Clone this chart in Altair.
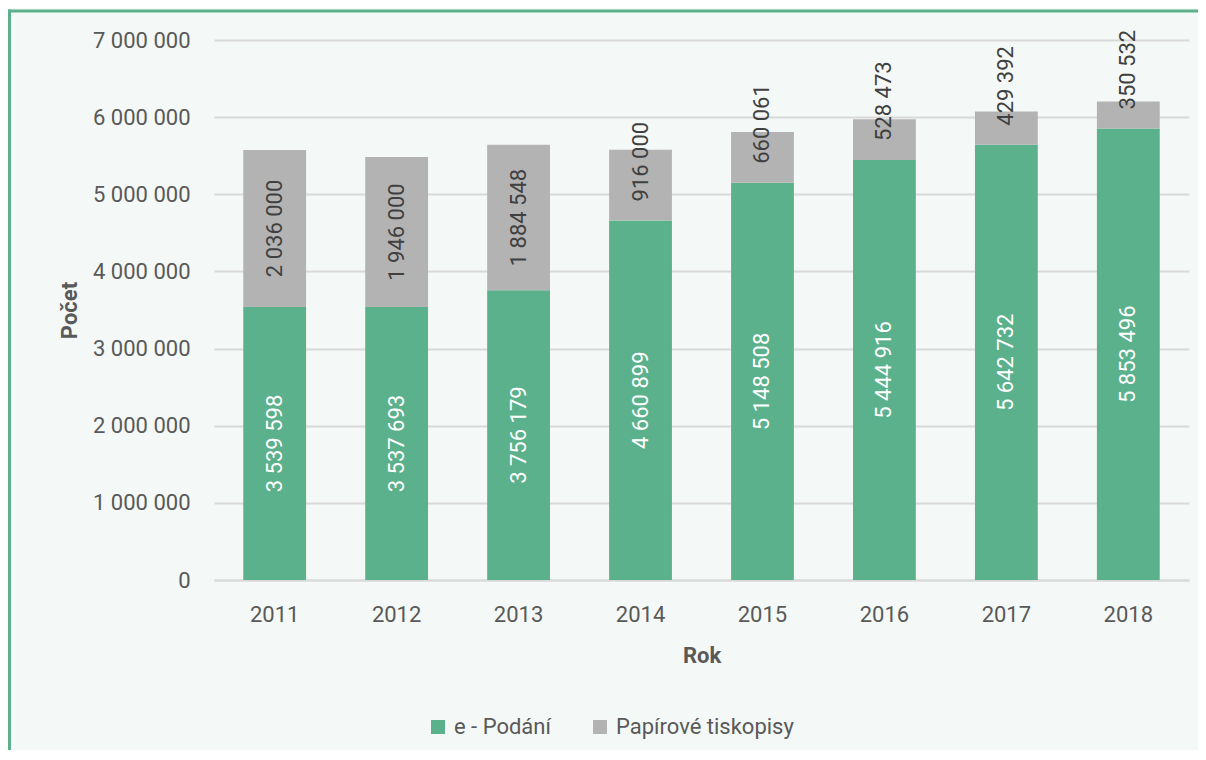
import altair as alt
import pandas as pd

years = ["2011", "2012", "2013", "2014", "2015", "2016", "2017", "2018"]
epodani = [3539598, 3537693, 3756179, 4660899, 5148508, 5444916, 5642732, 5853496]
papir = [2036000, 1946000, 1884548, 916000, 660061, 528473, 429392, 350532]
series = ["e - Podání", "Papírové tiskopisy"]
colors = ["#5ab18c", "#b3b3b3"]
yticks = [0, 1000000, 2000000, 3000000, 4000000, 5000000, 6000000, 7000000]

FONT = "Roboto"
TXT = "#595959"
FS = 22
FRAME = "#5ab18c"

wide = pd.DataFrame({"rok": years, "e": epodani, "p": papir})
long = pd.DataFrame({
    "rok": years * 2,
    "serie": [series[0]] * len(years) + [series[1]] * len(years),
    "pocet": epodani + papir,
    "poradi": [0] * len(years) + [1] * len(years),
})

xenc = alt.X("rok:N", title="Rok",
             scale=alt.Scale(paddingInner=0.485, paddingOuter=0.24),
             axis=alt.Axis(labelAngle=0, labelPadding=24, titlePadding=20,
                           ticks=False, domain=True, domainColor="#d9d9d9",
                           domainWidth=2, grid=False))

bars = alt.Chart(long).mark_bar().encode(
    x=xenc,
    y=alt.Y("pocet:Q", title="Počet", stack="zero",
            scale=alt.Scale(domain=[0, 7000000], nice=False),
            axis=alt.Axis(values=yticks, format=",d", labelPadding=24,
                          titlePadding=11, ticks=False, domain=False,
                          grid=True, gridColor="#d9d9d9", gridWidth=2)),
    color=alt.Color("serie:N",
                    scale=alt.Scale(domain=series, range=colors),
                    legend=alt.Legend(title=None, orient="none", direction="horizontal",
                                      legendX=213, legendY=676, symbolType="square",
                                      symbolSize=196, symbolStrokeWidth=0,
                                      labelFont=FONT, labelFontSize=FS, labelColor=TXT,
                                      labelOffset=5, columnPadding=38, padding=0,
                                      labelLimit=400)),
    order=alt.Order("poradi:Q"),
)

base = alt.Chart(wide)

green_lbl = base.transform_calculate(
    ymid="datum.e / 2"
).mark_text(angle=270, align="center", baseline="middle", font=FONT,
            fontSize=FS, color="white").encode(
    x=alt.X("rok:N"),
    y=alt.Y("ymid:Q"),
    text=alt.Text("e:Q", format=",d"),
)

gray_center = base.transform_filter("datum.p >= 1200000").transform_calculate(
    ymid="datum.e + datum.p / 2"
).mark_text(angle=270, align="center", baseline="middle", font=FONT,
            fontSize=FS, color="#404040").encode(
    x=alt.X("rok:N"),
    y=alt.Y("ymid:Q"),
    text=alt.Text("p:Q", format=",d"),
)

gray_over = base.transform_filter("datum.p < 1200000").mark_text(
    angle=270, align="left", baseline="middle", font=FONT, fontSize=FS,
    color="#404040", dx=19).encode(
    x=alt.X("rok:N"),
    y=alt.Y("e:Q"),
    text=alt.Text("p:Q", format=",d"),
)

one = pd.DataFrame({"a": [0]})
frame_left = alt.Chart(one).mark_rule(color=FRAME, strokeWidth=3).encode(
    x=alt.value(-204.5), y=alt.value(-30.5), y2=alt.value(760))
frame_top = alt.Chart(one).mark_rule(color=FRAME, strokeWidth=3).encode(
    x=alt.value(-206), x2=alt.value(1100), y=alt.value(-29))

chart = alt.layer(frame_left, frame_top, bars, green_lbl, gray_center, gray_over).properties(
    width=975, height=540,
    autosize=alt.AutoSizeParams(type="none"),
    padding={"left": 206, "top": 32, "right": 9, "bottom": 170},
    background="#f4f8f6",
).configure(
    locale={"number": {"decimal": ",", "thousands": " ", "grouping": [3],
                       "currency": ["", ""]}},
    view=alt.ViewConfig(stroke=None),
    axis=alt.AxisConfig(
        labelFont=FONT, labelFontSize=FS, labelColor=TXT,
        titleFont=FONT, titleFontSize=FS, titleColor=TXT, titleFontWeight="bold",
    ),
)

chart.save("out.html", embed_options={"renderer": "svg", "actions": False})
